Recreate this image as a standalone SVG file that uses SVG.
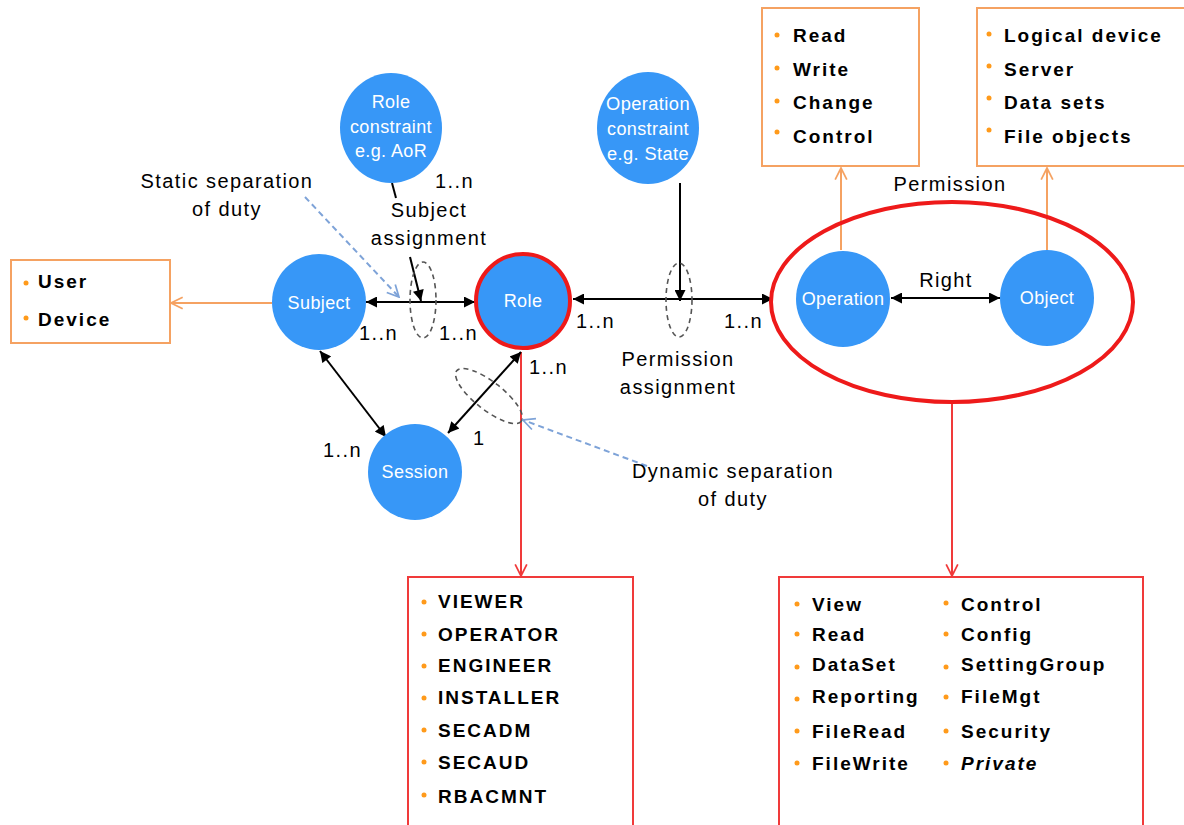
<svg xmlns="http://www.w3.org/2000/svg" width="1184" height="825" viewBox="0 0 1184 825">
<style>
.node{fill:#3797f7}
.nt{font-family:"Liberation Sans",Arial,sans-serif;font-size:18px;fill:#fff;text-anchor:middle;letter-spacing:0.4px}
.lbl{font-family:"Liberation Sans",Arial,sans-serif;font-size:20px;fill:#000;letter-spacing:1.4px}
.mid{text-anchor:middle}
.li{font-family:"Liberation Sans",Arial,sans-serif;font-size:19px;font-weight:bold;fill:#000;letter-spacing:2px}
.bul{fill:#ff9a1a}
.obox{fill:#fff;stroke:#f5a262;stroke-width:2}
.rbox{fill:#fff;stroke:#f03a3a;stroke-width:2}
.blk{stroke:#000;stroke-width:2;fill:none}
.dash{fill:none;stroke:#555;stroke-width:1.6;stroke-dasharray:5 4}
.blue{stroke:#7ea3d8;stroke-width:2;stroke-dasharray:6 4;fill:none}
</style>
<defs>
<marker id="arr" viewBox="0 0 10 10" refX="10" refY="5" markerWidth="13" markerHeight="11" markerUnits="userSpaceOnUse" orient="auto-start-reverse"><path d="M0,0 L10,5 L0,10 z" fill="#000"/></marker>
<marker id="oarr" viewBox="0 0 12 12" refX="11" refY="6" markerWidth="14" markerHeight="14" markerUnits="userSpaceOnUse" orient="auto"><path d="M1,1 L11,6 L1,11" fill="none" stroke="#f5a262" stroke-width="1.5"/></marker>
<marker id="rarr" viewBox="0 0 12 12" refX="11" refY="6" markerWidth="14" markerHeight="14" markerUnits="userSpaceOnUse" orient="auto"><path d="M1,1 L11,6 L1,11" fill="none" stroke="#f03a3a" stroke-width="1.5"/></marker>
<marker id="barr" viewBox="0 0 12 12" refX="11" refY="6" markerWidth="14" markerHeight="14" markerUnits="userSpaceOnUse" orient="auto"><path d="M1,1 L11,6 L1,11" fill="none" stroke="#7ea3d8" stroke-width="1.5"/></marker>
</defs>
<rect width="1184" height="825" fill="#fff"/>

<g id="connectors">
<line x1="272" y1="303" x2="171" y2="303" stroke="#f5a262" stroke-width="2" marker-end="url(#oarr)"/>
<line x1="841" y1="250" x2="841" y2="168" stroke="#f5a262" stroke-width="2" marker-end="url(#oarr)"/>
<line x1="1047" y1="250" x2="1047" y2="168" stroke="#f5a262" stroke-width="2" marker-end="url(#oarr)"/>
<line x1="521" y1="352" x2="521" y2="576" stroke="#f03a3a" stroke-width="2" marker-end="url(#rarr)"/>
<line x1="952" y1="403" x2="952" y2="576" stroke="#f03a3a" stroke-width="2" marker-end="url(#rarr)"/>
<line x1="366" y1="302" x2="475" y2="302" class="blk" marker-start="url(#arr)" marker-end="url(#arr)"/>
<line x1="573" y1="299" x2="773" y2="299" class="blk" marker-start="url(#arr)" marker-end="url(#arr)"/>
<line x1="891" y1="298" x2="1000" y2="298" class="blk" marker-start="url(#arr)" marker-end="url(#arr)"/>
<line x1="320" y1="351" x2="386" y2="437" class="blk" marker-start="url(#arr)" marker-end="url(#arr)"/>
<line x1="521" y1="352" x2="448" y2="433" class="blk" marker-start="url(#arr)" marker-end="url(#arr)"/>
<line x1="392" y1="183" x2="396" y2="198" stroke="#000" stroke-width="2"/>
<line x1="410" y1="257" x2="421" y2="301" class="blk" marker-end="url(#arr)"/>
<line x1="680" y1="183" x2="680" y2="301" class="blk" marker-end="url(#arr)"/>
<ellipse cx="423" cy="300" rx="13" ry="38" class="dash"/>
<ellipse cx="679" cy="300" rx="13" ry="37" class="dash"/>
<ellipse cx="489" cy="396" rx="41" ry="14" transform="rotate(38 489 396)" class="dash"/>
<line x1="305" y1="197" x2="399" y2="297" class="blue" marker-end="url(#barr)"/>
<line x1="647" y1="466" x2="523" y2="420" class="blue" marker-end="url(#barr)"/>
</g>

<g id="permission">
<ellipse cx="952" cy="302" rx="181" ry="100" fill="none" stroke="#ee1a1a" stroke-width="4"/>
<text x="950" y="191" class="lbl mid">Permission</text>
</g>

<g id="role-constraint">
<ellipse cx="391" cy="128" rx="51" ry="55" class="node"/>
<text x="391" y="108" class="nt">Role</text>
<text x="391" y="133" class="nt">constraint</text>
<text x="391" y="157" class="nt">e.g. AoR</text>
</g>
<g id="operation-constraint">
<ellipse cx="648" cy="128" rx="51" ry="56" class="node"/>
<text x="648" y="110" class="nt" textLength="84" lengthAdjust="spacingAndGlyphs">Operation</text>
<text x="648" y="135" class="nt" textLength="82" lengthAdjust="spacingAndGlyphs">constraint</text>
<text x="648" y="160" class="nt" textLength="82" lengthAdjust="spacingAndGlyphs">e.g. State</text>
</g>
<g id="subject">
<ellipse cx="319" cy="302" rx="47" ry="48" class="node"/>
<text x="319" y="309" class="nt">Subject</text>
</g>
<g id="role">
<circle cx="523" cy="301" r="47" class="node" stroke="#ee1a1a" stroke-width="4"/>
<text x="523" y="307" class="nt">Role</text>
</g>
<g id="session">
<ellipse cx="415" cy="472" rx="47" ry="48" class="node"/>
<text x="415" y="478" class="nt">Session</text>
</g>
<g id="operation">
<ellipse cx="843" cy="299" rx="47" ry="48" class="node"/>
<text x="843" y="305" class="nt">Operation</text>
</g>
<g id="object">
<ellipse cx="1047" cy="298" rx="47" ry="48" class="node"/>
<text x="1047" y="304" class="nt">Object</text>
</g>

<g id="labels">
<text x="227" y="188" class="lbl mid">Static separation</text>
<text x="227" y="216" class="lbl mid">of duty</text>
<text x="435" y="188" class="lbl">1..n</text>
<text x="429" y="217" class="lbl mid">Subject</text>
<text x="429" y="245" class="lbl mid">assignment</text>
<text x="359" y="340" class="lbl">1..n</text>
<text x="439" y="340" class="lbl">1..n</text>
<text x="576" y="328" class="lbl">1..n</text>
<text x="724" y="328" class="lbl">1..n</text>
<text x="678" y="366" class="lbl mid">Permission</text>
<text x="678" y="394" class="lbl mid">assignment</text>
<text x="529" y="374" class="lbl">1..n</text>
<text x="473" y="445" class="lbl">1</text>
<text x="323" y="457" class="lbl">1..n</text>
<text x="733" y="478" class="lbl mid">Dynamic separation</text>
<text x="733" y="506" class="lbl mid">of duty</text>
<text x="946" y="287" class="lbl mid">Right</text>
</g>

<g id="subject-types">
<rect x="11" y="260" width="159" height="83" class="obox"/>
<circle cx="26" cy="283" r="2.5" class="bul"/>
<text x="38" y="288" class="li">User</text>
<circle cx="26" cy="318" r="2.5" class="bul"/>
<text x="38" y="326" class="li">Device</text>
</g>

<g id="operation-types">
<rect x="762" y="8" width="157" height="158" class="obox"/>
<circle cx="777" cy="35" r="2.5" class="bul"/><text x="793" y="42" class="li">Read</text>
<circle cx="777" cy="68" r="2.5" class="bul"/><text x="793" y="76" class="li">Write</text>
<circle cx="777" cy="101" r="2.5" class="bul"/><text x="793" y="109" class="li">Change</text>
<circle cx="777" cy="132" r="2.5" class="bul"/><text x="793" y="143" class="li">Control</text>
</g>

<g id="object-types">
<rect x="977" y="8" width="215" height="158" class="obox"/>
<circle cx="989" cy="34" r="2.5" class="bul"/><text x="1004" y="42" class="li">Logical device</text>
<circle cx="989" cy="66" r="2.5" class="bul"/><text x="1004" y="76" class="li">Server</text>
<circle cx="989" cy="98" r="2.5" class="bul"/><text x="1004" y="109" class="li">Data sets</text>
<circle cx="989" cy="130" r="2.5" class="bul"/><text x="1004" y="143" class="li">File objects</text>
</g>

<g id="roles">
<rect x="408" y="577" width="225" height="260" class="rbox"/>
<circle cx="424" cy="602" r="2.5" class="bul"/><text x="438" y="608" class="li">VIEWER</text>
<circle cx="424" cy="634" r="2.5" class="bul"/><text x="438" y="641" class="li">OPERATOR</text>
<circle cx="424" cy="666" r="2.5" class="bul"/><text x="438" y="672" class="li">ENGINEER</text>
<circle cx="424" cy="698" r="2.5" class="bul"/><text x="438" y="704" class="li">INSTALLER</text>
<circle cx="424" cy="730" r="2.5" class="bul"/><text x="438" y="737" class="li">SECADM</text>
<circle cx="424" cy="762" r="2.5" class="bul"/><text x="438" y="769" class="li">SECAUD</text>
<circle cx="424" cy="795" r="2.5" class="bul"/><text x="438" y="803" class="li">RBACMNT</text>
</g>

<g id="rights">
<rect x="779" y="577" width="364" height="260" class="rbox"/>
<circle cx="797" cy="604" r="2.5" class="bul"/><text x="812" y="611" class="li">View</text>
<circle cx="797" cy="634" r="2.5" class="bul"/><text x="812" y="641" class="li">Read</text>
<circle cx="797" cy="667" r="2.5" class="bul"/><text x="812" y="671" class="li">DataSet</text>
<circle cx="797" cy="699" r="2.5" class="bul"/><text x="812" y="703" class="li">Reporting</text>
<circle cx="797" cy="731" r="2.5" class="bul"/><text x="812" y="738" class="li">FileRead</text>
<circle cx="797" cy="763" r="2.5" class="bul"/><text x="812" y="770" class="li">FileWrite</text>
<circle cx="946" cy="603" r="2.5" class="bul"/><text x="961" y="611" class="li">Control</text>
<circle cx="946" cy="634" r="2.5" class="bul"/><text x="961" y="641" class="li">Config</text>
<circle cx="946" cy="667" r="2.5" class="bul"/><text x="961" y="671" class="li">SettingGroup</text>
<circle cx="946" cy="697" r="2.5" class="bul"/><text x="961" y="703" class="li">FileMgt</text>
<circle cx="946" cy="731" r="2.5" class="bul"/><text x="961" y="738" class="li">Security</text>
<circle cx="946" cy="763" r="2.5" class="bul"/><text x="961" y="770" class="li" font-style="italic">Private</text>
</g>
</svg>
